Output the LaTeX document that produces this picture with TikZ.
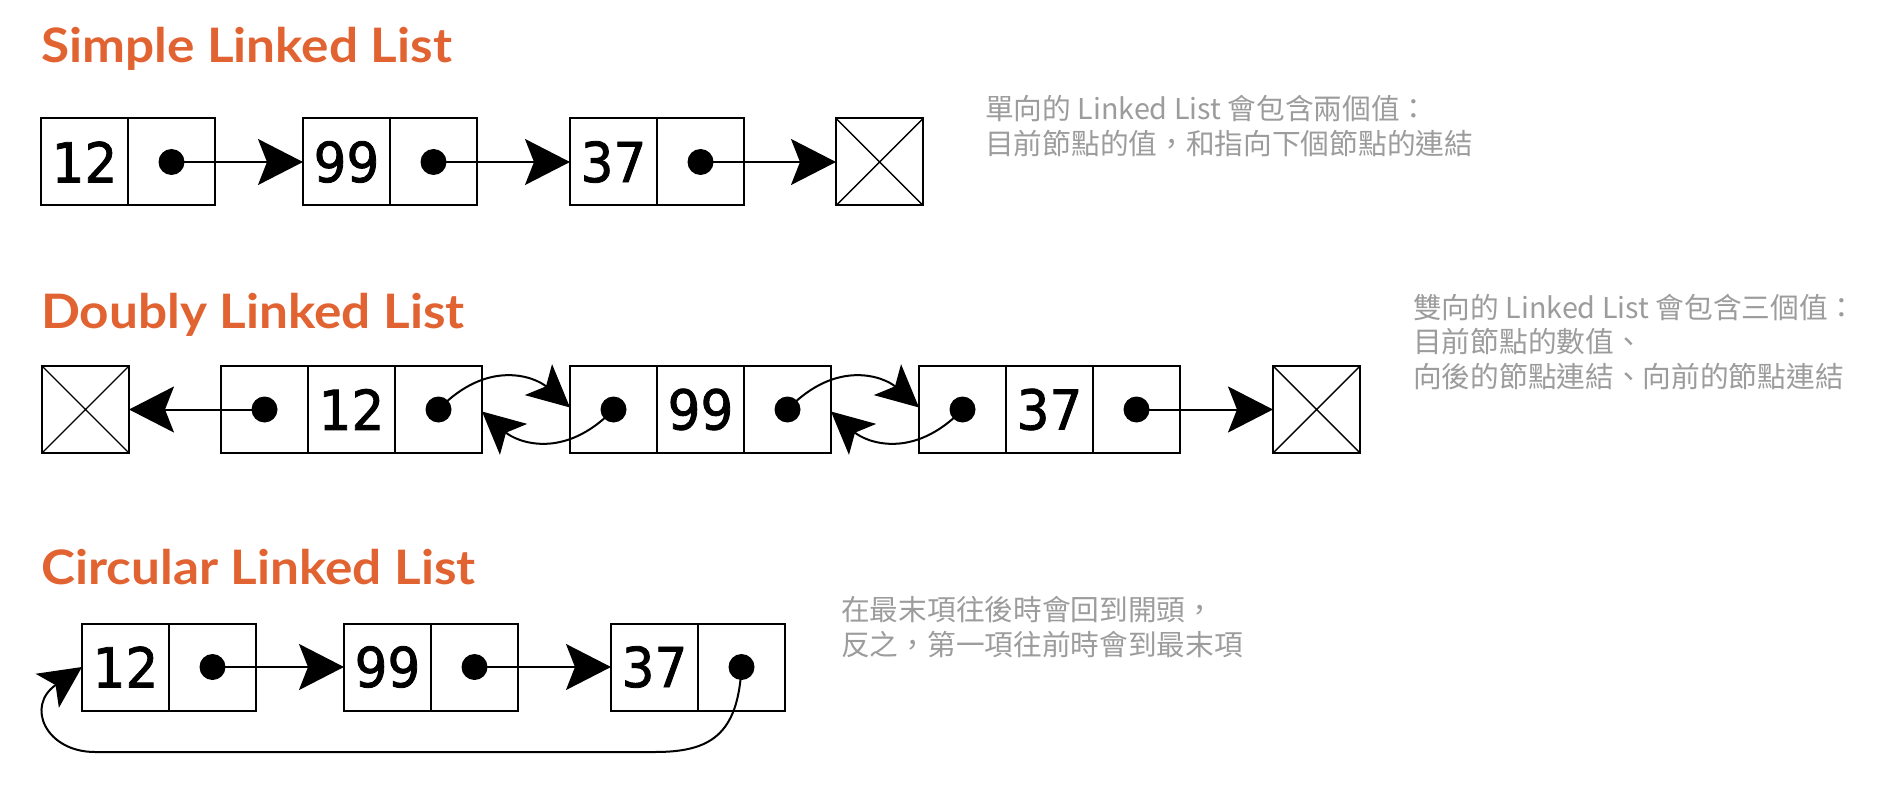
\documentclass[tikz,border=0pt]{standalone}
\usepackage{fontspec}
\usetikzlibrary{arrows.meta,calc}
\newfontfamily\numfont{DejaVu Sans}[FakeBold=1.5, FakeStretch=0.94]
\newfontfamily\titlefont{Lato}[FakeStretch=1.08]
\newfontfamily\cjk{Noto Sans CJK TC}
\definecolor{titleorange}{RGB}{226,99,50}
\definecolor{notegray}{RGB}{156,156,156}
\tikzset{
  cell/.style={draw, line width=2pt, minimum width=87pt, minimum height=87pt, inner sep=0pt, outer sep=0pt},
  valcell/.style={cell, font=\numfont\fontsize{55}{55}\selectfont},
  nullcell/.style={cell},
  xline/.style={line width=1.4pt},
  ptr/.style={line width=2pt, -{Stealth[length=45pt, width=46pt, inset=9pt]}},
  bentptr/.style={line width=2pt, -{Stealth[length=42pt, width=41pt, inset=10pt]}},
  dotmark/.style={fill=black},
  heading/.style={anchor=base west, inner sep=0pt, text=titleorange, font=\titlefont\bfseries\fontsize{47.5}{47.5}\selectfont},
  note/.style={anchor=base west, inner sep=0pt, align=left, text=notegray, font=\cjk\fontsize{28.7}{34.7}\selectfont}
}
\begin{document}
\begin{tikzpicture}[x=1pt, y=-1pt]
\useasboundingbox (0,0) rectangle (1886,786);
\fill[white] (0,0) rectangle (1886,786);

% ---------- Simple ----------
\node[heading] (t1) at (41,63) {Simple Linked List};
\node[valcell] (s1v) at (84.5,162) {12};
\node[cell] (s1n) at (171.5,162) {};
\node[valcell] (s2v) at (346.5,162) {99};
\node[cell] (s2n) at (433.5,162) {};
\node[valcell] (s3v) at (613.5,162) {37};
\node[cell] (s3n) at (700.5,162) {};
\node[nullcell] (s0) at (879.5,162) {};
\draw[xline] (s0.north west) -- (s0.south east) (s0.south west) -- (s0.north east);
\foreach \c in {s1n,s2n,s3n} \fill[dotmark] (\c.center) circle (13pt);
\draw[ptr] (s1n.center) -- (s2v.west);
\draw[ptr] (s2n.center) -- (s3v.west);
\draw[ptr] (s3n.center) -- (s0.west);
\node[note] (n1) at (985,154.5) {單向的 Linked List 會包含兩個值：\\目前節點的值，和指向下個節點的連結};

% ---------- Doubly ----------
\node[heading] (t2) at (41,328) {Doubly Linked List};
\node[nullcell] (dL) at (85.5,409.5) {};
\draw[xline] (dL.north west) -- (dL.south east) (dL.south west) -- (dL.north east);
\node[cell] (d1p) at (264.5,409.5) {};
\node[valcell] (d1v) at (351.5,409.5) {12};
\node[cell] (d1n) at (438.5,409.5) {};
\node[cell] (d2p) at (613.5,409.5) {};
\node[valcell] (d2v) at (700.5,409.5) {99};
\node[cell] (d2n) at (787.5,409.5) {};
\node[cell] (d3p) at (962.5,409.5) {};
\node[valcell] (d3v) at (1049.5,409.5) {37};
\node[cell] (d3n) at (1136.5,409.5) {};
\node[nullcell] (dR) at (1316.5,409.5) {};
\draw[xline] (dR.north west) -- (dR.south east) (dR.south west) -- (dR.north east);
\foreach \c in {d1p,d1n,d2p,d2n,d3p,d3n} \fill[dotmark] (\c.center) circle (13pt);
\draw[ptr] (d1p.center) -- (dL.east);
\draw[ptr] (d3n.center) -- (dR.west);
\coordinate (in2) at ([yshift=2pt]d2p.west);
\coordinate (back1) at ([yshift=-2pt]d1n.east);
\coordinate (in3) at ([yshift=2pt]d3p.west);
\coordinate (back2) at ([yshift=-2pt]d2n.east);
\draw[bentptr] (d1n.center) .. controls +(50,-52) and +(-34,-30) .. (in2);
\draw[bentptr] (d2p.center) .. controls +(-50,52) and +(34,30) .. (back1);
\draw[bentptr] (d2n.center) .. controls +(50,-52) and +(-34,-30) .. (in3);
\draw[bentptr] (d3p.center) .. controls +(-50,52) and +(34,30) .. (back2);
\node[note] (n2) at (1413,387.5) {雙向的 Linked List 會包含三個值：\\目前節點的數值、\\向後的節點連結、向前的節點連結};

% ---------- Circular ----------
\node[heading] (t3) at (41,584) {Circular Linked List};
\node[valcell] (c1v) at (125.5,667) {12};
\node[cell] (c1n) at (212.5,667) {};
\node[valcell] (c2v) at (387.5,667) {99};
\node[cell] (c2n) at (474.5,667) {};
\node[valcell] (c3v) at (654.5,667) {37};
\node[cell] (c3n) at (741.5,667) {};
\foreach \c in {c1n,c2n,c3n} \fill[dotmark] (\c.center) circle (13pt);
\draw[ptr] (c1n.center) -- (c2v.west);
\draw[ptr] (c2n.center) -- (c3v.west);
\coordinate (loopR) at (655,752);
\coordinate (loopL) at (95,752);
\draw[bentptr] (c3n.center) .. controls (738,735) and (710,752) .. (loopR) -- (loopL) .. controls (46,752) and (25,706) .. (c1v.west);
\node[note] (n3) at (841,655) {在最末項往後時會回到開頭，\\反之，第一項往前時會到最末項};
\end{tikzpicture}
\end{document}
